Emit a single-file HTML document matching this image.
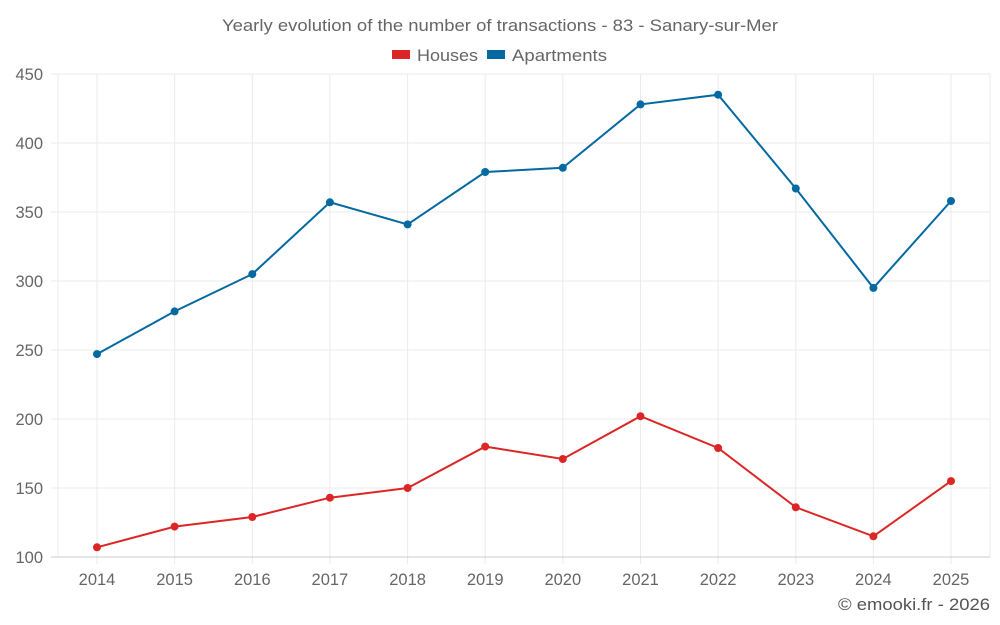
<!DOCTYPE html><html><head><style>body{margin:0;background:#fff}svg{display:block;font-family:"Liberation Sans",sans-serif}</style></head><body>
<svg width="1000" height="625" xmlns="http://www.w3.org/2000/svg">
<text x="222" y="31" font-size="16.5" fill="#666" textLength="556" lengthAdjust="spacingAndGlyphs">Yearly evolution of the number of transactions - 83 - Sanary-sur-Mer</text>
<rect x="392" y="50" width="18" height="9" fill="#dc2626"/><text x="417" y="61" font-size="16.5" fill="#666" textLength="61" lengthAdjust="spacingAndGlyphs">Houses</text>
<rect x="487" y="50" width="18" height="9" fill="#0369a1"/><text x="512" y="61" font-size="16.5" fill="#666" textLength="95" lengthAdjust="spacingAndGlyphs">Apartments</text>
<g stroke="#ebebeb" stroke-width="1">
<line x1="51" x2="990" y1="74" y2="74"/><line x1="51" x2="990" y1="143" y2="143"/><line x1="51" x2="990" y1="212" y2="212"/><line x1="51" x2="990" y1="281" y2="281"/><line x1="51" x2="990" y1="350" y2="350"/><line x1="51" x2="990" y1="419" y2="419"/><line x1="51" x2="990" y1="488" y2="488"/>
<line x1="58" x2="58" y1="74" y2="557"/>
<line x1="97" x2="97" y1="74" y2="564"/><line x1="174.6" x2="174.6" y1="74" y2="564"/><line x1="252.3" x2="252.3" y1="74" y2="564"/><line x1="329.9" x2="329.9" y1="74" y2="564"/><line x1="407.6" x2="407.6" y1="74" y2="564"/><line x1="485.2" x2="485.2" y1="74" y2="564"/><line x1="562.8" x2="562.8" y1="74" y2="564"/><line x1="640.5" x2="640.5" y1="74" y2="564"/><line x1="718.1" x2="718.1" y1="74" y2="564"/><line x1="795.8" x2="795.8" y1="74" y2="564"/><line x1="873.4" x2="873.4" y1="74" y2="564"/><line x1="951" x2="951" y1="74" y2="564"/><line x1="990" x2="990" y1="74" y2="557"/>
</g>
<line x1="51" x2="990" y1="557" y2="557" stroke="#ccc"/>
<g font-size="16.5" fill="#666" text-anchor="end">
<text x="43" y="80">450</text><text x="43" y="149">400</text><text x="43" y="218">350</text><text x="43" y="287">300</text><text x="43" y="356">250</text><text x="43" y="425">200</text><text x="43" y="494">150</text><text x="43" y="563">100</text></g>
<g font-size="16.5" fill="#666" text-anchor="middle">
<text x="97" y="585">2014</text><text x="174.6" y="585">2015</text><text x="252.3" y="585">2016</text><text x="329.9" y="585">2017</text><text x="407.6" y="585">2018</text><text x="485.2" y="585">2019</text><text x="562.8" y="585">2020</text><text x="640.5" y="585">2021</text><text x="718.1" y="585">2022</text><text x="795.8" y="585">2023</text><text x="873.4" y="585">2024</text><text x="951" y="585">2025</text></g>
<text x="838" y="610" font-size="16.5" fill="#555" textLength="152" lengthAdjust="spacingAndGlyphs">© emooki.fr - 2026</text>
<polyline fill="none" stroke="#0369a1" stroke-width="2" points="97,354.1 174.6,311.4 252.3,274.1 329.9,202.3 407.6,224.4 485.2,172 562.8,167.8 640.5,104.4 718.1,94.7 795.8,188.5 873.4,287.9 951,201"/>
<g fill="#0369a1"><circle cx="97" cy="354.1" r="4"/><circle cx="174.6" cy="311.4" r="4"/><circle cx="252.3" cy="274.1" r="4"/><circle cx="329.9" cy="202.3" r="4"/><circle cx="407.6" cy="224.4" r="4"/><circle cx="485.2" cy="172" r="4"/><circle cx="562.8" cy="167.8" r="4"/><circle cx="640.5" cy="104.4" r="4"/><circle cx="718.1" cy="94.7" r="4"/><circle cx="795.8" cy="188.5" r="4"/><circle cx="873.4" cy="287.9" r="4"/><circle cx="951" cy="201" r="4"/></g>
<polyline fill="none" stroke="#dc2626" stroke-width="2" points="97,547.3 174.6,526.6 252.3,517 329.9,497.7 407.6,488 485.2,446.6 562.8,459 640.5,416.2 718.1,448 795.8,507.3 873.4,536.3 951,481.1"/>
<g fill="#dc2626"><circle cx="97" cy="547.3" r="4"/><circle cx="174.6" cy="526.6" r="4"/><circle cx="252.3" cy="517" r="4"/><circle cx="329.9" cy="497.7" r="4"/><circle cx="407.6" cy="488" r="4"/><circle cx="485.2" cy="446.6" r="4"/><circle cx="562.8" cy="459" r="4"/><circle cx="640.5" cy="416.2" r="4"/><circle cx="718.1" cy="448" r="4"/><circle cx="795.8" cy="507.3" r="4"/><circle cx="873.4" cy="536.3" r="4"/><circle cx="951" cy="481.1" r="4"/></g>
</svg></body></html>
